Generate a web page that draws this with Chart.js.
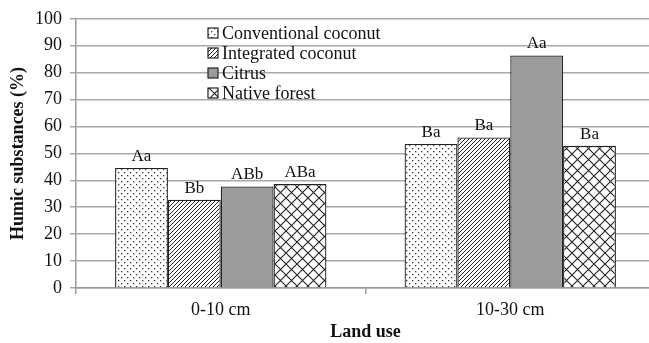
<!DOCTYPE html>
<html>
<head>
<meta charset="utf-8">
<script src="https://cdn.jsdelivr.net/npm/chart.js@4.4.1/dist/chart.umd.min.js"></script>
<style>
    html, body { margin: 0; padding: 0; background: #fff; overflow: hidden; }
    #wrap { width: 649px; height: 343px; overflow: hidden; }
</style>
</head>
<body>
<div id="wrap"><canvas id="chart-humic" width="655" height="343"></canvas></div>
<script>
// data
var depths = ["0-10 cm", "10-30 cm"];
var seriesNames = ["Conventional coconut", "Integrated coconut", "Citrus", "Native forest"];
var conventional = [44.6, 53.5];
var integrated = [32.8, 55.9];
var citrus = [37.7, 86.4];
var nativeForest = [38.6, 52.8];
var letters = [
    ["Aa", "Ba"],
    ["Bb", "Ba"],
    ["ABb", "Aa"],
    ["ABa", "Ba"],
];
var yTicks = [0, 10, 20, 30, 40, 50, 60, 70, 80, 90, 100];

var serif = "'Liberation Serif', 'Times New Roman', serif";

// patterns
function makePattern(size, draw) {
    var c = document.createElement("canvas");
    c.width = size;
    c.height = size;
    var g = c.getContext("2d");
    g.fillStyle = "#fff";
    g.fillRect(0, 0, size, size);
    draw(g, size);
    return document.getElementById("chart-humic").getContext("2d").createPattern(c, "repeat");
}

var dots = makePattern(6, function (g) {
    g.fillStyle = "#333";
    g.fillRect(1, 1, 1.3, 1.3);
    g.fillRect(4, 4, 1.3, 1.3);
});
var hatch = makePattern(4, function (g, s) {
    g.strokeStyle = "#222";
    g.lineWidth = 1;
    g.beginPath();
    g.moveTo(-1, s + 1); g.lineTo(s + 1, -1);
    g.moveTo(-1, 1); g.lineTo(1, -1);
    g.moveTo(s - 1, s + 1); g.lineTo(s + 1, s - 1);
    g.stroke();
});
var cross = makePattern(11, function (g, s) {
    g.strokeStyle = "#222";
    g.lineWidth = 1.1;
    g.beginPath();
    g.moveTo(0, 0); g.lineTo(s, s);
    g.moveTo(0, s); g.lineTo(s, 0);
    g.stroke();
});
var fills = [dots, hatch, "#9b9b9b", cross];
var values = [conventional, integrated, citrus, nativeForest];

// letters above bars + legend inside plot
var extras = {
    id: "extras",
    afterDatasetsDraw: function (chart) {
        var ctx = chart.ctx;
        ctx.save();
        ctx.font = "17px " + serif;
        ctx.fillStyle = "#111";
        ctx.textAlign = "center";
        ctx.textBaseline = "bottom";
        chart.data.datasets.forEach(function (ds, i) {
            chart.getDatasetMeta(i).data.forEach(function (bar, j) {
                ctx.fillText(letters[i][j], bar.x, bar.y - 3);
            });
        });
        // legend
        ctx.font = "18px " + serif;
        ctx.textAlign = "left";
        ctx.textBaseline = "middle";
        chart.data.datasets.forEach(function (ds, i) {
            var y = 33 + i * 20;
            ctx.fillStyle = ds.backgroundColor;
            ctx.fillRect(208, y - 5, 10, 10);
            ctx.strokeStyle = "#222";
            ctx.lineWidth = 1.2;
            ctx.strokeRect(208, y - 5, 10, 10);
            ctx.fillStyle = "#111";
            ctx.fillText(ds.label, 222, y + 1);
        });
        ctx.restore();
    }
};

var ctx = document.getElementById("chart-humic").getContext("2d");
var myChart = new Chart(ctx, {
    type: "bar",
    data: {
        labels: depths,
        datasets: seriesNames.map(function (name, i) {
            return {
                label: name,
                data: values[i],
                backgroundColor: fills[i],
                borderColor: "#222",
                borderWidth: 1.3,
                categoryPercentage: 0.73,
                barPercentage: 1.0,
            };
        }),
    },
    options: {
        responsive: false,
        animation: false,
        layout: {
            padding: { top: 16, right: 0, left: 0, bottom: 0 }
        },
        plugins: {
            legend: { display: false },
            tooltip: { enabled: false }
        },
        scales: {
            x: {
                grid: {
                    offset: true,
                    drawOnChartArea: false,
                    tickLength: 6,
                    color: "#999",
                    lineWidth: 1.5
                },
                border: { color: "#999", width: 1.5 },
                ticks: {
                    color: "#111",
                    font: { family: serif, size: 18 },
                    padding: 5
                },
                title: {
                    display: true,
                    text: "Land use",
                    color: "#111",
                    font: { family: serif, size: 18, weight: "bold" },
                    padding: { top: 1, bottom: 0 }
                },
                afterFit: function (scale) { scale.height = 55; }
            },
            y: {
                min: 0,
                max: 100,
                afterBuildTicks: function (scale) {
                    scale.ticks = yTicks.map(function (v) { return { value: v }; });
                },
                grid: {
                    color: "#a8a8a8",
                    lineWidth: 1.5,
                    tickLength: 6
                },
                border: { color: "#999", width: 1.5 },
                ticks: {
                    color: "#111",
                    font: { family: serif, size: 18 },
                    padding: 8
                },
                title: {
                    display: true,
                    text: "Humic substances (%)",
                    color: "#111",
                    font: { family: serif, size: 18, weight: "bold" },
                    padding: { top: 8, bottom: 4 }
                },
                afterFit: function (scale) { scale.width = 76; }
            }
        }
    },
    plugins: [extras]
});
</script>
</body>
</html>
